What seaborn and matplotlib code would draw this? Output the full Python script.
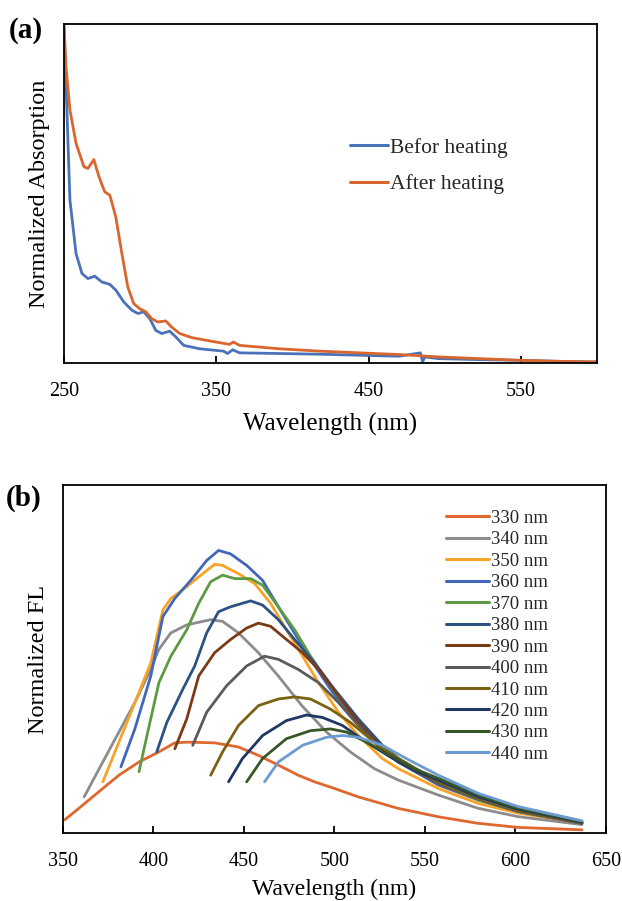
import numpy as np
import pandas as pd
import matplotlib
matplotlib.use("Agg")
import matplotlib.pyplot as plt
import seaborn as sns

# ---------------- Panel (a) data ----------------
after_wl = [250, 251.3, 253.9, 257.9, 263.1, 265.7, 269.6, 273, 276.7, 280.1, 284, 288,
            291.9, 295.8, 299.8, 303.7, 307.6, 311.6, 316.8, 320.7, 326, 333.8, 349.6,
            358.7, 361.3, 365.3, 391.5, 417.7, 443.9, 470, 496, 522.5, 548.7, 574.9, 600]
after_abs = [1.0, 0.874, 0.746, 0.648, 0.579, 0.574, 0.600, 0.549, 0.505, 0.495, 0.431, 0.323,
             0.224, 0.175, 0.160, 0.151, 0.131, 0.121, 0.124, 0.106, 0.087, 0.075, 0.062,
             0.055, 0.062, 0.052, 0.042, 0.035, 0.030, 0.025, 0.018, 0.013, 0.008, 0.005, 0.003]

before_wl = [250, 251.5, 253.9, 257.9, 261.8, 265.7, 270.2, 274.9, 280.1, 284, 289.3, 294.5,
             298.5, 302.4, 306.3, 310.3, 314.2, 319.4, 323.4, 328.6, 339, 354.8, 357.4,
             360.8, 365.3, 391.5, 417.7, 443.9, 470, 484, 485.5, 487, 496, 522.5, 548.7, 575, 600]
before_abs = [0.99, 0.80, 0.48, 0.323, 0.264, 0.249, 0.256, 0.239, 0.232, 0.215, 0.180, 0.156,
              0.146, 0.151, 0.131, 0.096, 0.087, 0.094, 0.077, 0.052, 0.042, 0.035, 0.028,
              0.039, 0.030, 0.028, 0.026, 0.023, 0.020, 0.030, 0.004, 0.018, 0.013, 0.010, 0.008, 0.005, 0.003]

abs_labels = ["Befor heating", "After heating"]
abs_colors = ["#4A72B8", "#D9662E"]

# ---------------- Panel (b) data ----------------
fl_labels = ["330 nm", "340 nm", "350 nm", "360 nm", "370 nm", "380 nm",
             "390 nm", "400 nm", "410 nm", "420 nm", "430 nm", "440 nm"]
fl_colors = ["#E0682E", "#8C8C8C", "#F7A32A", "#4168B8", "#5E9A43", "#2C5282",
             "#7B3A16", "#5A5A5A", "#7A6210", "#1F3864", "#385726", "#6C9BD2"]

wl_330 = [351, 358.8, 372, 380.9, 392, 403, 411.8, 418.4, 433.8, 447, 458, 469, 480, 489, 500, 513, 535, 557, 579, 601.5, 636.8]
fl_330 = [0.038, 0.071, 0.128, 0.166, 0.204, 0.233, 0.259, 0.261, 0.259, 0.247, 0.223, 0.195, 0.166, 0.147, 0.128, 0.104, 0.071, 0.047, 0.028, 0.016, 0.009]
wl_340 = [361.7, 372, 380.9, 389.7, 398.5, 402.9, 409.6, 418.4, 431.6, 438.2, 447, 458, 469, 482, 495.6, 508.8, 522, 535.3, 557.4, 579.4, 601.5, 636.8]
fl_340 = [0.104, 0.204, 0.290, 0.375, 0.470, 0.527, 0.575, 0.598, 0.613, 0.608, 0.575, 0.518, 0.451, 0.366, 0.290, 0.233, 0.185, 0.152, 0.109, 0.071, 0.047, 0.024]
wl_350 = [372, 380.9, 392, 398.5, 405.2, 409.6, 418.4, 425, 433.8, 438.2, 447, 455.9, 464.7, 473.5, 482.4, 491.2, 502.2, 513.2, 526.5, 535.3, 557.4, 579.4, 601.5, 636.8]
fl_350 = [0.147, 0.261, 0.404, 0.489, 0.641, 0.674, 0.708, 0.736, 0.772, 0.769, 0.745, 0.717, 0.660, 0.584, 0.508, 0.432, 0.347, 0.280, 0.214, 0.185, 0.128, 0.085, 0.057, 0.028]
wl_360 = [382, 389.7, 398.5, 405.2, 411.8, 420.6, 429.4, 436, 442.6, 451.5, 460.3, 469, 478, 486.8, 497.8, 508.8, 522, 535.3, 557.4, 579.4, 601.5, 636.8]
fl_360 = [0.190, 0.299, 0.451, 0.622, 0.674, 0.726, 0.783, 0.812, 0.802, 0.769, 0.726, 0.650, 0.574, 0.499, 0.413, 0.337, 0.261, 0.204, 0.138, 0.095, 0.062, 0.028]
wl_370 = [392, 396.4, 403, 409.6, 418.4, 425, 431.6, 438.2, 444.9, 453.7, 460.3, 469, 478, 486.8, 497.8, 508.8, 522, 535.3, 557.4, 579.4, 601.5, 636.8]
fl_370 = [0.176, 0.280, 0.432, 0.508, 0.584, 0.660, 0.722, 0.741, 0.731, 0.731, 0.712, 0.650, 0.584, 0.508, 0.423, 0.347, 0.271, 0.214, 0.142, 0.095, 0.062, 0.028]
wl_380 = [401.8, 407.4, 416.2, 422.8, 429.4, 436, 442.6, 453.7, 460.3, 469, 478, 489, 500, 513.2, 526.5, 535.3, 557.4, 579.4, 601.5, 636.8]
fl_380 = [0.233, 0.318, 0.413, 0.480, 0.575, 0.636, 0.650, 0.667, 0.655, 0.613, 0.556, 0.489, 0.413, 0.328, 0.252, 0.214, 0.147, 0.100, 0.066, 0.031]
wl_390 = [411.8, 418.4, 425, 433.8, 442.6, 451.5, 458, 464.7, 473.5, 482.4, 491.2, 502.2, 513.2, 526.5, 535.3, 557.4, 579.4, 601.5, 636.8]
fl_390 = [0.242, 0.328, 0.451, 0.518, 0.556, 0.589, 0.603, 0.594, 0.556, 0.518, 0.470, 0.394, 0.318, 0.242, 0.204, 0.142, 0.098, 0.064, 0.030]
wl_400 = [421.7, 429.4, 440.4, 451.5, 461.4, 469, 480, 491.2, 502.2, 513.2, 526.5, 535.3, 557.4, 579.4, 601.5, 636.8]
fl_400 = [0.252, 0.347, 0.423, 0.480, 0.508, 0.499, 0.470, 0.432, 0.375, 0.309, 0.237, 0.204, 0.142, 0.097, 0.062, 0.027]
wl_410 = [431.6, 438.2, 447, 458, 469, 478, 486.8, 497.8, 508.8, 522, 535.3, 557.4, 579.4, 601.5, 636.8]
fl_410 = [0.166, 0.233, 0.309, 0.366, 0.385, 0.391, 0.385, 0.356, 0.318, 0.261, 0.214, 0.147, 0.100, 0.065, 0.030]
wl_420 = [441.5, 449.2, 460.3, 473.5, 484.6, 493.4, 504.4, 517.7, 531, 544, 557.4, 579.4, 601.5, 636.8]
fl_420 = [0.147, 0.214, 0.280, 0.323, 0.339, 0.332, 0.309, 0.261, 0.218, 0.180, 0.152, 0.104, 0.068, 0.031]
wl_430 = [451.5, 460.3, 473.5, 486.8, 497.8, 506.6, 517.7, 531, 544, 557.4, 579.4, 601.5, 636.8]
fl_430 = [0.147, 0.214, 0.271, 0.294, 0.299, 0.290, 0.261, 0.223, 0.185, 0.157, 0.109, 0.071, 0.033]
wl_440 = [461.4, 469, 482.4, 495.6, 504.4, 513.2, 526.5, 539.7, 557.4, 579.4, 601.5, 636.8]
fl_440 = [0.147, 0.204, 0.252, 0.275, 0.280, 0.275, 0.252, 0.214, 0.166, 0.114, 0.076, 0.035]

fl_wl = [wl_330, wl_340, wl_350, wl_360, wl_370, wl_380, wl_390, wl_400, wl_410, wl_420, wl_430, wl_440]
fl_val = [fl_330, fl_340, fl_350, fl_360, fl_370, fl_380, fl_390, fl_400, fl_410, fl_420, fl_430, fl_440]

# ---------------- Build tables ----------------
df_a = pd.concat([
    pd.DataFrame({"wl": before_wl, "val": before_abs, "series": abs_labels[0]}),
    pd.DataFrame({"wl": after_wl, "val": after_abs, "series": abs_labels[1]}),
], ignore_index=True)

df_b = pd.concat([
    pd.DataFrame({"wl": w, "val": v, "series": lab}) for w, v, lab in zip(fl_wl, fl_val, fl_labels)
], ignore_index=True)

# ---------------- Figure ----------------
sns.set_theme(style="white")
plt.rcParams["font.family"] = ["Liberation Serif", "DejaVu Serif"]
plt.rcParams["axes.edgecolor"] = "black"

fig = plt.figure(figsize=(6.22, 9.01), dpi=100)
ax1 = fig.add_axes([0.1029, 0.5971, 0.9598 - 0.1029, 0.9734 - 0.5971])
ax2 = fig.add_axes([0.1013, 0.0755, 0.9740 - 0.1013, 0.4617 - 0.0755])

lw = 2.0
sns.lineplot(data=df_a, x="wl", y="val", hue="series", hue_order=abs_labels,
             palette=dict(zip(abs_labels, abs_colors)), estimator=None, sort=False,
             linewidth=lw, ax=ax1)
sns.lineplot(data=df_b, x="wl", y="val", hue="series", hue_order=fl_labels,
             palette=dict(zip(fl_labels, fl_colors)), estimator=None, sort=False,
             linewidth=lw, ax=ax2)

ax1.set_xlim(250, 600)
ax1.set_ylim(0, 1.0)
ax1.set_xticks([250, 350, 450, 550])
ax1.set_yticks([])
ax2.set_xlim(350, 650)
ax2.set_ylim(0, 1.0)
ax2.set_xticks([350, 400, 450, 500, 550, 600, 650])
ax2.set_yticks([])

for ax in (ax1, ax2):
    for s in ax.spines.values():
        s.set_color("black")
        s.set_linewidth(1.3)
    ax.tick_params(axis="x", direction="in", length=5, width=1.3, color="black",
                   labelsize=14.5, pad=14, bottom=True, labelcolor="black")

ax1.set_xlabel("Wavelength (nm)", fontsize=18, color="black", labelpad=8)
ax2.set_xlabel("Wavelength (nm)", fontsize=17, color="black", labelpad=5)
ax1.set_ylabel("Normalized Absorption", fontsize=17.5, color="black", labelpad=10)
ax2.set_ylabel("Normalized FL", fontsize=17.5, color="black", labelpad=10)

leg1 = ax1.legend(loc="upper left", bbox_to_anchor=(0.52, 0.69), frameon=False,
                  fontsize=15.5, handlelength=1.77, handletextpad=0.08, labelspacing=0.77,
                  borderaxespad=0)
leg2 = ax2.legend(loc="upper left", bbox_to_anchor=(0.692, 0.95), frameon=False,
                  fontsize=13.5, handlelength=2.3, handletextpad=0.08, labelspacing=0.23,
                  borderaxespad=0)
for leg in (leg1, leg2):
    for line in leg.get_lines():
        line.set_linewidth(2.2)

fig.text(0.014, 0.9667, "(a)", fontsize=21, fontweight="bold", color="black", va="center")
fig.text(0.010, 0.4473, "(b)", fontsize=21, fontweight="bold", color="black", va="center")

fig.savefig("out.png", dpi=100)
